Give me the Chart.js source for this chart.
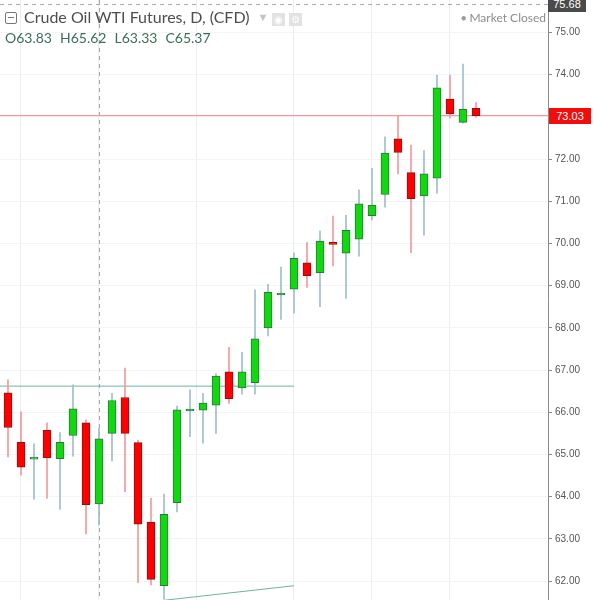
<!DOCTYPE html>
<html>
<head>
<meta charset="utf-8">
<script src="https://cdn.jsdelivr.net/npm/chart.js@4.4.1/dist/chart.umd.min.js"></script>
<style>
  body { margin: 0; background: #fff; font-family: Lato, "Open Sans", sans-serif; }
  #wrap { position: relative; width: 595px; height: 600px; overflow: hidden; }
  .ov { position: absolute; white-space: nowrap; }
  #title { left: 5px; top: 7px; font-size: 16px; color: #4e4e4e; }
  #title .box { display: inline-block; width: 10px; height: 10px; border: 1px solid #777; border-radius: 2px; position: relative; margin-right: 7px; vertical-align: -1px; }
  #title .box::after { content: ""; position: absolute; left: 2px; right: 2px; top: 4px; height: 1px; background: #777; }
  #title .caret { color: #c4c4c4; font-size: 11px; margin-left: 8px; vertical-align: 2px; }
  #title .icon { display: inline-block; width: 13px; height: 13px; background: #e2e2e2; color: #fff; font-size: 10px; line-height: 13px; text-align: center; margin-left: 4px; vertical-align: 0px; }
  #ohlc { left: 5px; top: 29px; font-size: 14px; color: #3b6e57; }
  #ohlc span { margin-right: 8px; }
  #status { left: 461px; top: 10px; font-size: 12px; color: #8c8c8c; }
  #status .dot { font-size: 9px; vertical-align: 1px; margin-right: 3px; color: #9a9a9a; }
  .tag { position: absolute; height: 16px; line-height: 16px; color: #fff; font-family: "Liberation Sans", Arial, sans-serif; font-size: 11px; text-align: center; }
  #lastTag { left: 549px; width: 42px; background: #f20d0d; }
  #crossTag { left: 548px; width: 38px; background: #4a4a4a; }
</style>
</head>
<body>
<div id="wrap">
  <canvas id="chart"></canvas>
  <div id="title" class="ov"><span class="box"></span>Crude Oil WTI Futures, D, (CFD)<span class="caret">▼</span><span class="icon">◉</span><span class="icon">⚙</span></div>
  <div id="ohlc" class="ov"><span>O63.83</span><span>H65.62</span><span>L63.33</span><span>C65.37</span></div>
  <div id="status" class="ov"><span class="dot">●</span>Market Closed</div>
  <div id="crossTag" class="tag">75.68</div>
  <div id="lastTag" class="tag">73.03</div>
</div>
<script>
// daily candles, oldest first (index = trading day)
const opens  = [66.46, 65.29, 64.89, 65.57, 64.90, 65.45, 65.75, 63.83, 65.50, 66.35, 65.28, 63.40, 61.89, 63.86, 66.03, 66.05, 66.17, 66.96, 66.58, 66.70, 68.00, 68.78, 68.92, 69.54, 69.31, 70.01, 69.77, 70.10, 70.66, 71.16, 72.48, 71.68, 71.13, 71.55, 73.42, 72.87, 73.20];
const highs  = [66.77, 66.01, 65.25, 65.75, 65.52, 66.65, 65.82, 65.62, 66.45, 67.05, 65.34, 63.96, 64.06, 66.15, 66.53, 66.45, 66.92, 67.54, 67.42, 68.90, 69.03, 69.44, 69.78, 70.02, 70.30, 70.65, 70.67, 71.27, 71.78, 72.53, 73.02, 72.33, 72.20, 73.99, 73.99, 74.25, 73.34];
const lows   = [64.94, 64.51, 63.94, 63.96, 63.70, 64.96, 63.12, 63.33, 64.85, 64.12, 61.96, 61.91, 61.57, 63.64, 65.42, 65.27, 65.50, 66.21, 66.43, 66.43, 67.81, 68.20, 68.35, 68.96, 68.50, 69.47, 68.70, 69.70, 70.56, 70.86, 71.65, 69.78, 70.20, 71.19, 72.97, 72.85, 72.99];
const closes = [65.64, 64.70, 64.90, 64.92, 65.29, 66.08, 63.81, 65.37, 66.28, 65.50, 63.35, 62.04, 63.58, 66.06, 66.06, 66.22, 66.86, 66.32, 66.96, 67.74, 68.84, 68.81, 69.65, 69.24, 70.06, 69.98, 70.31, 70.94, 70.91, 72.14, 72.16, 71.06, 71.65, 73.69, 73.07, 73.18, 73.03];

const priceTicks = [62, 63, 64, 65, 66, 67, 68, 69, 70, 71, 72, 73, 74, 75];
const gridDays = [4, 10, 19, 25, 31];

// drawn lines
const resistance = [{ x: -1, y: 66.62 }, { x: 22, y: 66.62 }];
const trendLine = [{ x: 12, y: 61.545 }, { x: 22, y: 61.89 }];
const lastPrice = 73.03;
const crossDay = 7;
const crossPrice = 75.68;

const X_MIN = -0.615, X_MAX = 41.54;
const Y_MIN = 61.552, Y_MAX = 75.77;

function buildCandles() {
  const up = opens.map((o, i) => closes[i] >= o);
  const wicks = lows.map((l, i) => ({ x: i, y: [l, highs[i]] }));
  const bodies = opens.map((o, i) => ({ x: i, y: [Math.min(o, closes[i]), Math.max(o, closes[i])] }));
  return { up, wicks, bodies };
}

const overlayPlugin = {
  id: "overlay",
  beforeDatasetsDraw(chart) {
    const { ctx, chartArea, scales } = chart;
    const x = Math.round(scales.x.getPixelForValue(crossDay)) + 0.5;
    const y = Math.round(scales.y.getPixelForValue(crossPrice)) + 0.5;
    ctx.save();
    ctx.strokeStyle = "#a8a8a8";
    ctx.lineWidth = 1;
    ctx.setLineDash([4, 4]);
    ctx.beginPath();
    ctx.moveTo(x, chartArea.top);
    ctx.lineTo(x, chartArea.bottom);
    ctx.moveTo(chartArea.left, y);
    ctx.lineTo(chartArea.right, y);
    ctx.stroke();
    ctx.restore();
  },
  afterDraw(chart) {
    const ys = chart.scales.y;
    document.getElementById("lastTag").style.top = (ys.getPixelForValue(lastPrice) - 8) + "px";
    document.getElementById("crossTag").style.top = (ys.getPixelForValue(crossPrice) - 8) + "px";
  }
};

function renderChart() {
  const { up, wicks, bodies } = buildCandles();
  const ctx = document.getElementById("chart").getContext("2d");

  new Chart(ctx, {
    type: "bar",
    data: {
      datasets: [
        {
          label: "Body",
          data: bodies,
          order: 1,
          grouped: false,
          barThickness: 8,
          minBarLength: 2,
          borderWidth: 1,
          borderSkipped: false,
          backgroundColor: up.map(u => u ? "#11d811" : "#ff0000"),
          borderColor: up.map(u => u ? "#267a37" : "#8e1010")
        },
        {
          label: "Wick",
          data: wicks,
          order: 2,
          grouped: false,
          barThickness: 1,
          borderWidth: 0,
          backgroundColor: up.map(u => u ? "#9ebfcd" : "#f39a9a")
        },
        {
          type: "line",
          label: "Resistance",
          data: resistance,
          order: 3,
          borderColor: "#6db3a3",
          borderWidth: 1,
          pointRadius: 0
        },
        {
          type: "line",
          label: "Trend",
          data: trendLine,
          order: 3,
          borderColor: "#6db3a3",
          borderWidth: 1,
          pointRadius: 0
        },
        {
          type: "line",
          label: "Last",
          data: [{ x: X_MIN, y: lastPrice }, { x: X_MAX, y: lastPrice }],
          order: 3,
          borderColor: "#f28b8b",
          backgroundColor: "#f28b8b",
          borderWidth: 1,
          pointRadius: 0
        }
      ]
    },
    options: {
      responsive: true,
      maintainAspectRatio: false,
      animation: false,
      layout: { padding: 0 },
      plugins: { legend: { display: false }, tooltip: { enabled: false } },
      scales: {
        x: {
          type: "linear",
          min: X_MIN,
          max: X_MAX,
          offset: false,
          ticks: { display: false },
          grid: { color: "#e9eef3", drawTicks: false },
          border: { display: false },
          afterBuildTicks: s => { s.ticks = gridDays.map(v => ({ value: v })); },
          afterFit: s => { s.height = 0; s.paddingLeft = 0; s.paddingRight = 0; }
        },
        y: {
          position: "right",
          min: Y_MIN,
          max: Y_MAX,
          grid: { color: "#f3f4f6", tickColor: "#8a8a8a", tickLength: 4 },
          border: { color: "#8a8a8a", width: 1 },
          ticks: {
            padding: 3,
            color: "#555",
            font: { family: "Liberation Sans", size: 10 },
            callback: v => v.toFixed(2)
          },
          afterBuildTicks: s => { s.ticks = priceTicks.map(v => ({ value: v })); },
          afterFit: s => { s.width = 47; s.paddingTop = 0; s.paddingBottom = 0; }
        }
      }
    },
    plugins: [overlayPlugin]
  });
}

renderChart();
</script>
</body>
</html>
